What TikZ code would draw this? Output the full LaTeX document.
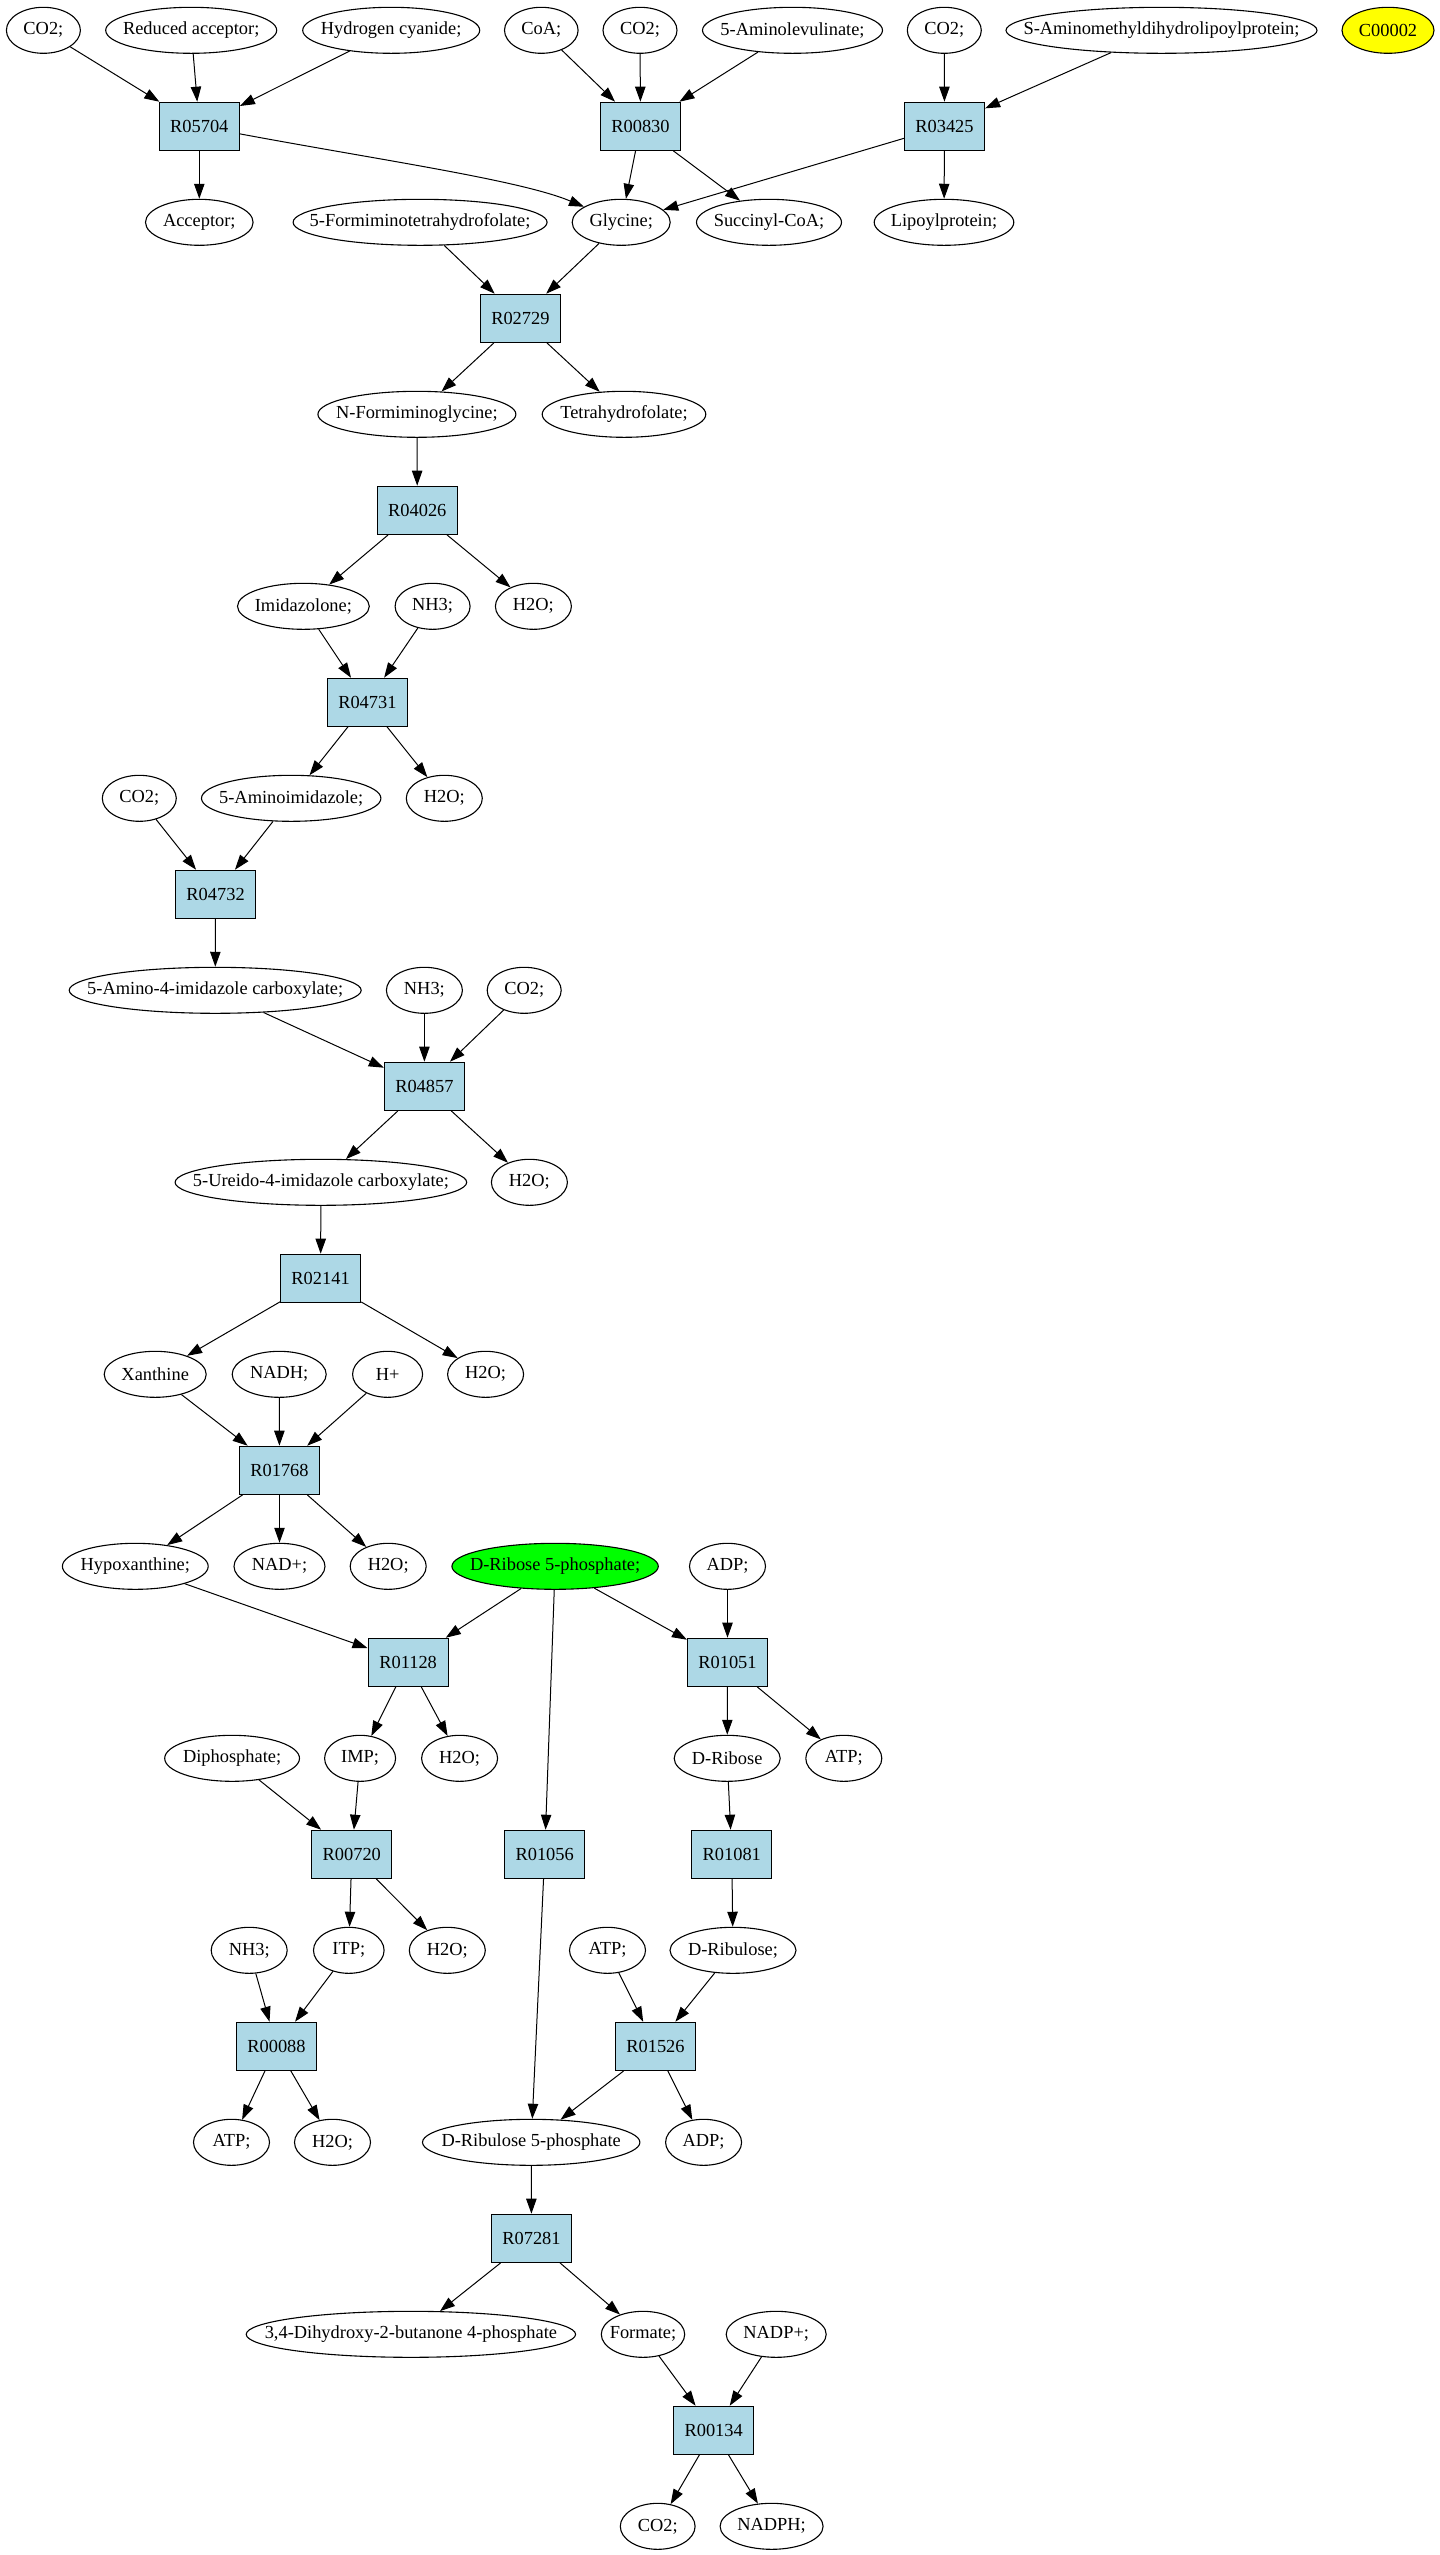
\documentclass[tikz,border=0pt]{standalone}
\usepackage{fontspec}
\setmainfont{Liberation Serif}
\usetikzlibrary{shapes.geometric,arrows.meta}
\newcommand\ntxt[1]{\makebox[0pt]{#1}}
\definecolor{lblue}{HTML}{ADD8E6}
\definecolor{rgreen}{HTML}{00FF00}
\definecolor{cyellow}{HTML}{FFFF00}
\begin{document}
\begin{tikzpicture}[x=0.5pt,y=-0.5pt,
 every node/.style={font=\fontsize{9.2pt}{11pt}\selectfont},
 ell/.style={ellipse,draw=black,line width=0.55pt,inner sep=0pt,minimum height=23pt},
 rxn/.style={rectangle,draw=black,line width=0.6pt,fill=lblue,inner sep=0pt,minimum width=40pt,minimum height=24pt},
 flow/.style={line width=0.5pt,-{Triangle[length=7.5pt,width=5.2pt]}}]
\useasboundingbox (0,0) rectangle (1440,2555);
% row 0
\node[ell,minimum width=37pt] (aco2) at (43.4,30.3) {\ntxt{CO2;}};
\node[ell,minimum width=85.5pt] (ared) at (191.2,30.3) {\ntxt{Reduced acceptor;}};
\node[ell,minimum width=88.5pt] (ahcn) at (391.2,30.3) {\ntxt{Hydrogen cyanide;}};
\node[ell,minimum width=36.8pt] (bcoa) at (541.3,30.3) {\ntxt{CoA;}};
\node[ell,minimum width=37pt] (bco2) at (640,30.3) {\ntxt{CO2;}};
\node[ell,minimum width=90pt] (bala) at (792.5,30.3) {\ntxt{5-Aminolevulinate;}};
\node[ell,minimum width=37pt] (cco2) at (944.3,30.3) {\ntxt{CO2;}};
\node[ell,minimum width=155.5pt] (csam) at (1161.5,30.3) {\ntxt{S-Aminomethyldihydrolipoylprotein;}};
\node[ell,minimum width=46pt,fill=cyellow] (cpd) at (1388,30.3) {\ntxt{C00002}};
% row 1
\node[rxn] (R05704) at (199.3,126.3) {R05704};
\node[rxn] (R00830) at (640.5,126.3) {R00830};
\node[rxn] (R03425) at (944.5,126.3) {R03425};
% row 2
\node[ell,minimum width=53.8pt] (acc) at (199.3,222.3) {\ntxt{Acceptor;}};
\node[ell,minimum width=127pt] (fthf) at (420.1,222.3) {\ntxt{5-Formiminotetrahydrofolate;}};
\node[ell,minimum width=49pt] (gly) at (621.2,222.3) {\ntxt{Glycine;}};
\node[ell,minimum width=72.5pt] (succ) at (769,222.3) {\ntxt{Succinyl-CoA;}};
\node[ell,minimum width=69.8pt] (lipo) at (944,222.3) {\ntxt{Lipoylprotein;}};
% row 3
\node[rxn] (R02729) at (520.4,318.3) {R02729};
% row 4
\node[ell,minimum width=99pt] (nfg) at (416.9,414.3) {\ntxt{N-Formiminoglycine;}};
\node[ell,minimum width=81.8pt] (thf) at (624,414.3) {\ntxt{Tetrahydrofolate;}};
% row 5
\node[rxn] (R04026) at (417.3,510.3) {R04026};
% row 6
\node[ell,minimum width=65.9pt] (imz) at (303.4,606.3) {\ntxt{Imidazolone;}};
\node[ell,minimum width=37.5pt] (nhA) at (432.6,606.3) {\ntxt{NH3;}};
\node[ell,minimum width=38pt] (hoA) at (533.4,606.3) {\ntxt{H2O;}};
% row 7
\node[rxn] (R04731) at (367.4,702.3) {R04731};
% row 8
\node[ell,minimum width=37pt] (coD) at (139.3,798.3) {\ntxt{CO2;}};
\node[ell,minimum width=89.7pt] (aiz) at (291.2,798.3) {\ntxt{5-Aminoimidazole;}};
\node[ell,minimum width=38pt] (hoB) at (444.3,798.3) {\ntxt{H2O;}};
% row 9
\node[rxn] (R04732) at (215.6,894.3) {R04732};
% row 10
\node[ell,minimum width=146pt] (aic) at (215.2,990.3) {\ntxt{5-Amino-4-imidazole carboxylate;}};
\node[ell,minimum width=38pt] (nhB) at (424.4,990.3) {\ntxt{NH3;}};
\node[ell,minimum width=37pt] (coE) at (524.2,990.3) {\ntxt{CO2;}};
% row 11
\node[rxn] (R04857) at (424.4,1086.3) {R04857};
% row 12
\node[ell,minimum width=145.8pt] (uic) at (320.9,1182.3) {\ntxt{5-Ureido-4-imidazole carboxylate;}};
\node[ell,minimum width=38pt] (hoC) at (529.4,1182.3) {\ntxt{H2O;}};
% row 13
\node[rxn] (R02141) at (320.6,1278.3) {R02141};
% row 14
\node[ell,minimum width=51pt] (xan) at (155.2,1374.3) {\ntxt{Xanthine}};
\node[ell,minimum width=47pt] (nadh) at (279.2,1374.3) {\ntxt{NADH;}};
\node[ell,minimum width=35pt] (hpl) at (387.6,1374.3) {\ntxt{H+}};
\node[ell,minimum width=38pt] (hoD) at (485.6,1374.3) {\ntxt{H2O;}};
% row 15
\node[rxn] (R01768) at (279.5,1470.3) {R01768};
% row 16
\node[ell,minimum width=72.9pt] (hyp) at (135.3,1566.3) {\ntxt{Hypoxanthine;}};
\node[ell,minimum width=45.5pt] (nadp) at (279.5,1566.3) {\ntxt{NAD+;}};
\node[ell,minimum width=38pt] (hoE) at (388.2,1566.3) {\ntxt{H2O;}};
\node[ell,minimum width=103.2pt,fill=rgreen] (rfp) at (555.1,1566.3) {\ntxt{D-Ribose 5-phosphate;}};
\node[ell,minimum width=38pt] (adpA) at (727.5,1566.3) {\ntxt{ADP;}};
% row 17
\node[rxn] (R01128) at (408.1,1662.3) {R01128};
\node[rxn] (R01051) at (727.5,1662.3) {R01051};
% row 18
\node[ell,minimum width=67.4pt] (dip) at (232.1,1758.3) {\ntxt{Diphosphate;}};
\node[ell,minimum width=35.5pt] (imp) at (360.1,1758.3) {\ntxt{IMP;}};
\node[ell,minimum width=38pt] (hoF) at (459.6,1758.3) {\ntxt{H2O;}};
\node[ell,minimum width=53pt] (rib) at (727.2,1758.3) {\ntxt{D-Ribose}};
\node[ell,minimum width=38pt] (atpA) at (843.8,1758.3) {\ntxt{ATP;}};
% row 19
\node[rxn] (R00720) at (351.8,1854.3) {R00720};
\node[rxn] (R01056) at (544.7,1854.3) {R01056};
\node[rxn] (R01081) at (731.8,1854.3) {R01081};
% row 20
\node[ell,minimum width=38pt] (nhC) at (249.2,1950.3) {\ntxt{NH3;}};
\node[ell,minimum width=35.3pt] (itp) at (348.8,1950.3) {\ntxt{ITP;}};
\node[ell,minimum width=38pt] (hoG) at (447.3,1950.3) {\ntxt{H2O;}};
\node[ell,minimum width=38pt] (atpB) at (607.5,1950.3) {\ntxt{ATP;}};
\node[ell,minimum width=63pt] (rul) at (733,1950.3) {\ntxt{D-Ribulose;}};
% row 21
\node[rxn] (R00088) at (276.5,2046.3) {R00088};
\node[rxn] (R01526) at (655.5,2046.3) {R01526};
% row 22
\node[ell,minimum width=38pt] (atpC) at (231.5,2142.3) {\ntxt{ATP;}};
\node[ell,minimum width=38pt] (hoH) at (332.5,2142.3) {\ntxt{H2O;}};
\node[ell,minimum width=108.7pt] (rufp) at (531.2,2142.3) {\ntxt{D-Ribulose 5-phosphate}};
\node[ell,minimum width=38pt] (adpB) at (703.6,2142.3) {\ntxt{ADP;}};
% row 23
\node[rxn] (R07281) at (531.5,2238.3) {R07281};
% row 24
\node[ell,minimum width=164.7pt] (dhb) at (410.9,2334.3) {\ntxt{3,4-Dihydroxy-2-butanone 4-phosphate}};
\node[ell,minimum width=41.7pt] (form) at (643,2334.3) {\ntxt{Formate;}};
\node[ell,minimum width=50pt] (nadpp) at (776.2,2334.3) {\ntxt{NADP+;}};
% row 25
\node[rxn] (R00134) at (713.7,2430.3) {R00134};
% row 26
\node[ell,minimum width=37.4pt] (coF) at (657.7,2526.3) {\ntxt{CO2;}};
\node[ell,minimum width=51.5pt] (nadph) at (771.6,2526.3) {\ntxt{NADPH;}};
% edges
\draw[flow] (aco2) -- (R05704);
\draw[flow] (ared) -- (R05704);
\draw[flow] (ahcn) -- (R05704);
\draw[flow] (R05704) -- (acc);
\draw[flow] (R05704) .. controls (380,160) and (520,180) .. (gly);
\draw[flow] (bcoa) -- (R00830);
\draw[flow] (bco2) -- (R00830);
\draw[flow] (bala) -- (R00830);
\draw[flow] (R00830) -- (gly);
\draw[flow] (R00830) -- (succ);
\draw[flow] (cco2) -- (R03425);
\draw[flow] (csam) -- (R03425);
\draw[flow] (R03425) -- (gly);
\draw[flow] (R03425) -- (lipo);
\draw[flow] (fthf) -- (R02729);
\draw[flow] (gly) -- (R02729);
\draw[flow] (R02729) -- (nfg);
\draw[flow] (R02729) -- (thf);
\draw[flow] (nfg) -- (R04026);
\draw[flow] (R04026) -- (imz);
\draw[flow] (R04026) -- (hoA);
\draw[flow] (imz) -- (R04731);
\draw[flow] (nhA) -- (R04731);
\draw[flow] (R04731) -- (aiz);
\draw[flow] (R04731) -- (hoB);
\draw[flow] (coD) -- (R04732);
\draw[flow] (aiz) -- (R04732);
\draw[flow] (R04732) -- (aic);
\draw[flow] (aic) -- (R04857);
\draw[flow] (nhB) -- (R04857);
\draw[flow] (coE) -- (R04857);
\draw[flow] (R04857) -- (uic);
\draw[flow] (R04857) -- (hoC);
\draw[flow] (uic) -- (R02141);
\draw[flow] (R02141) -- (xan);
\draw[flow] (R02141) -- (hoD);
\draw[flow] (xan) -- (R01768);
\draw[flow] (nadh) -- (R01768);
\draw[flow] (hpl) -- (R01768);
\draw[flow] (R01768) -- (hyp);
\draw[flow] (R01768) -- (nadp);
\draw[flow] (R01768) -- (hoE);
\draw[flow] (hyp) -- (R01128);
\draw[flow] (rfp) -- (R01128);
\draw[flow] (R01128) -- (imp);
\draw[flow] (R01128) -- (hoF);
\draw[flow] (rfp) -- (R01056);
\draw[flow] (rfp) -- (R01051);
\draw[flow] (adpA) -- (R01051);
\draw[flow] (R01051) -- (rib);
\draw[flow] (R01051) -- (atpA);
\draw[flow] (dip) -- (R00720);
\draw[flow] (imp) -- (R00720);
\draw[flow] (R00720) -- (itp);
\draw[flow] (R00720) -- (hoG);
\draw[flow] (rib) -- (R01081);
\draw[flow] (R01081) -- (rul);
\draw[flow] (nhC) -- (R00088);
\draw[flow] (itp) -- (R00088);
\draw[flow] (R00088) -- (atpC);
\draw[flow] (R00088) -- (hoH);
\draw[flow] (atpB) -- (R01526);
\draw[flow] (rul) -- (R01526);
\draw[flow] (R01526) -- (rufp);
\draw[flow] (R01526) -- (adpB);
\draw[flow] (R01056) -- (rufp);
\draw[flow] (rufp) -- (R07281);
\draw[flow] (R07281) -- (dhb);
\draw[flow] (R07281) -- (form);
\draw[flow] (form) -- (R00134);
\draw[flow] (nadpp) -- (R00134);
\draw[flow] (R00134) -- (coF);
\draw[flow] (R00134) -- (nadph);
\end{tikzpicture}
\end{document}
